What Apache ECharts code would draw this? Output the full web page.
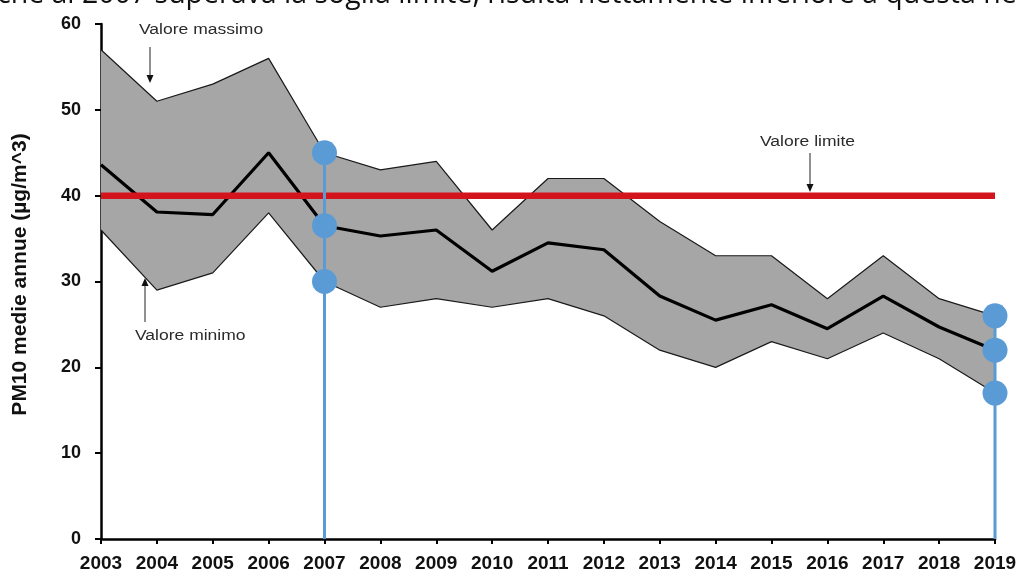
<!DOCTYPE html>
<html>
<head>
<meta charset="utf-8">
<script src="https://cdn.jsdelivr.net/npm/echarts@6/dist/echarts.min.js"></script>
<style>
  html, body { margin: 0; padding: 0; background: #fff; }
  #chart { width: 1022px; height: 574px; }
</style>
</head>
<body>
<div id="chart"></div>
<script>
// Annual PM10 means across monitoring stations, 2003-2019
const years = ['2003','2004','2005','2006','2007','2008','2009','2010','2011','2012','2013','2014','2015','2016','2017','2018','2019'];
const maxValues  = [57, 51, 53, 56, 45, 43, 44, 36, 42, 42, 37, 33, 33, 28, 33, 28, 26];
const meanValues = [43.6, 38.1, 37.8, 45, 36.5, 35.3, 36, 31.2, 34.5, 33.7, 28.3, 25.5, 27.3, 24.5, 28.3, 24.7, 22];
const minValues  = [36, 29, 31, 38, 30, 27, 28, 27, 28, 26, 22, 20, 23, 21, 24, 21, 17];
const limitValue = 40;
const yTicks = [0, 10, 20, 30, 40, 50, 60];
const highlightYears = ['2007', '2019'];

// band thickness between min and max, stacked on top of the min series
const bandValues = maxValues.map((v, i) => v - minValues[i]);

// vertical stems and dots for highlighted years
const stemSeries = [];
const dotData = [];
highlightYears.forEach(y => {
  const i = years.indexOf(y);
  stemSeries.push({
    type: 'line', data: [[y, 0], [y, maxValues[i]]], symbol: 'none', silent: true,
    lineStyle: { color: '#5b9bd5', width: 3 }, z: 5
  });
  dotData.push([y, maxValues[i]], [y, meanValues[i]], [y, minValues[i]]);
});

const chart = echarts.init(document.getElementById('chart'), null, { renderer: 'canvas' });

const font = '"Liberation Sans", Arial, sans-serif';

function note(text, x, y) {
  return { type: 'text', x: x, y: y, scaleX: 1.25,
    style: { text: text, fontFamily: font, fontSize: 14, fill: '#2a2a2a', verticalAlign: 'middle' } };
}

function arrow(x, y1, y2) {
  const dir = y2 > y1 ? 1 : -1;
  return [
    { type: 'line', shape: { x1: x, y1: y1, x2: x, y2: y2 - dir * 6 }, style: { stroke: '#222', lineWidth: 1 } },
    { type: 'polygon', shape: { points: [[x - 3.5, y2 - dir * 8], [x + 3.5, y2 - dir * 8], [x, y2]] }, style: { fill: '#111' } }
  ];
}

chart.setOption({
  animation: false,
  backgroundColor: '#fff',
  grid: { left: 101, right: 27, top: 24, bottom: 35, containLabel: false },
  xAxis: {
    type: 'category', data: years, boundaryGap: false,
    axisLine: { lineStyle: { color: '#000', width: 2.5 } },
    axisTick: { show: true, inside: false, length: 5, lineStyle: { color: '#000', width: 2 }, alignWithLabel: true },
    axisLabel: { color: '#111', fontFamily: font, fontWeight: 'bold', fontSize: 19, margin: 15, interval: 0 },
    splitLine: { show: false }
  },
  yAxis: {
    type: 'value', min: 0, max: 60, interval: 10,
    name: 'PM10 medie annue (µg/m^3)', nameLocation: 'middle', nameGap: 70,
    nameTextStyle: { color: '#111', fontFamily: font, fontWeight: 'bold', fontSize: 21, padding: [0, 0, 0, 14] },
    axisLine: { show: true, lineStyle: { color: '#000', width: 2.5 } },
    axisTick: { show: true, inside: false, length: 6, lineStyle: { color: '#000', width: 2 } },
    axisLabel: { color: '#111', fontFamily: font, fontWeight: 'bold', fontSize: 18, margin: 20,
      formatter: v => yTicks.includes(v) ? String(v) : '' },
    splitLine: { show: false }
  },
  series: [
    { name: 'base', type: 'line', stack: 'band', data: minValues, symbol: 'none',
      lineStyle: { opacity: 0 }, areaStyle: { opacity: 0 }, silent: true, z: 1 },
    { name: 'band', type: 'line', stack: 'band', data: bandValues, symbol: 'none',
      lineStyle: { opacity: 0 }, areaStyle: { color: '#a6a6a6', opacity: 1 }, silent: true, z: 1 },
    { name: 'Valore massimo', type: 'line', data: maxValues, symbol: 'none',
      lineStyle: { color: '#1a1a1a', width: 1.2 }, z: 2 },
    { name: 'Valore minimo', type: 'line', data: minValues, symbol: 'none',
      lineStyle: { color: '#1a1a1a', width: 1.2 }, z: 2 },
    { name: 'Media', type: 'line', data: meanValues, symbol: 'none',
      lineStyle: { color: '#000', width: 3.2 }, z: 3 },
    { name: 'Valore limite', type: 'line', data: years.map(() => limitValue), symbol: 'none',
      lineStyle: { color: '#d4141c', width: 6.5 }, z: 4 },
    ...stemSeries,
    { name: 'punti', type: 'scatter', data: dotData, symbol: 'circle', symbolSize: 25,
      itemStyle: { color: '#5b9bd5', opacity: 1 }, z: 6 }
  ],
  graphic: [
    // running text of the page above the chart, cut by the top edge
    { type: 'text', x: -3, y: -20, z: 10,
      style: { text: 'che al 2007 superava la soglia limite, risulta nettamente inferiore a questa ne',
        fontFamily: '"Open Sans", sans-serif', fontSize: 28.5, fill: '#111' } },
    note('Valore massimo', 139, 30),
    ...arrow(150, 47, 83),
    note('Media', 119, 128),
    ...arrow(124, 140, 177),
    note('Valore minimo', 135, 336),
    ...arrow(145, 322, 278),
    note('Valore limite', 760, 142),
    ...arrow(810, 153, 192)
  ]
});
</script>
</body>
</html>
